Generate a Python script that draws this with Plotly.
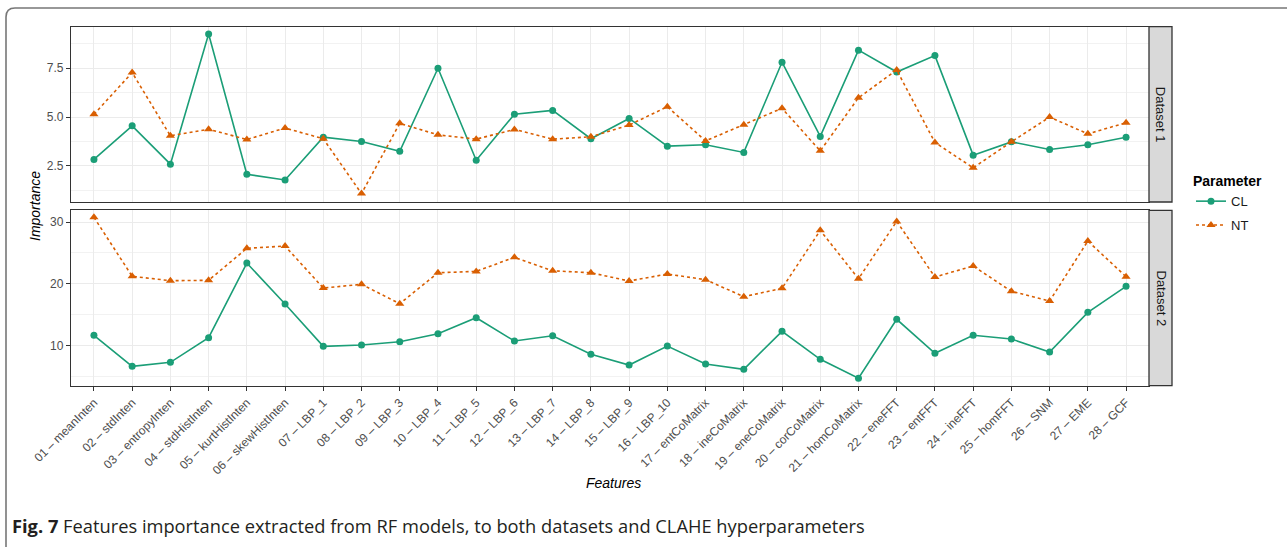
import plotly.graph_objects as go

W, H = 1287, 547

features = ["01 – meanInten", "02 – stdInten", "03 – entropyInten", "04 – stdHistInten",
            "05 – kurtHistInten", "06 – skewHistInten", "07 – LBP_1", "08 – LBP_2",
            "09 – LBP_3", "10 – LBP_4", "11 – LBP_5", "12 – LBP_6", "13 – LBP_7",
            "14 – LBP_8", "15 – LBP_9", "16 – LBP_10", "17 – entCoMatrix",
            "18 – ineCoMatrix", "19 – eneCoMatrix", "20 – corCoMatrix",
            "21 – homCoMatrix", "22 – eneFFT", "23 – entFFT", "24 – ineFFT",
            "25 – homFFT", "26 – SNM", "27 – EME", "28 – GCF"]

ds1_CL = [2.83, 4.55, 2.59, 9.26, 2.07, 1.78, 3.97, 3.75, 3.25, 7.50,
          2.79, 5.15, 5.34, 3.89, 4.93, 3.51, 3.58, 3.19, 7.81, 4.01,
          8.43, 7.31, 8.15, 3.05, 3.73, 3.34, 3.58, 3.97]
ds1_NT = [5.14, 7.28, 4.04, 4.38, 3.85, 4.44, 3.89, 1.08, 4.68, 4.09,
          3.87, 4.37, 3.87, 3.99, 4.59, 5.53, 3.78, 4.61, 5.45, 3.27,
          5.99, 7.41, 3.70, 2.40, 3.73, 5.00, 4.14, 4.71]
ds2_CL = [11.64, 6.61, 7.26, 11.25, 23.35, 16.71, 9.85, 10.06, 10.60, 11.90,
          14.49, 10.71, 11.57, 8.56, 6.82, 9.90, 6.98, 6.13, 12.28, 7.75,
          4.67, 14.23, 8.72, 11.64, 11.04, 8.93, 15.36, 19.58]
ds2_NT = [30.76, 21.20, 20.49, 20.55, 25.74, 26.10, 19.30, 19.90, 16.76, 21.78,
          22.00, 24.28, 22.10, 21.78, 20.44, 21.57, 20.65, 17.90, 19.25, 28.65,
          20.81, 30.10, 21.09, 22.87, 18.77, 17.20, 26.92, 21.13]

panels = ["Dataset 1", "Dataset 2"]
params = ["CL", "NT"]

CL_COLOR = "#1B9E77"
NT_COLOR = "#D95F02"

def px_x(p):
    return p / W

def px_y(p):
    return 1 - p / H

X0, X1 = 71, 1149
P1 = (26.7, 202.0)
P2 = (210.3, 385.7)

fig = go.Figure()

series = [
    (ds1_CL, "CL", "x", "y", True),
    (ds1_NT, "NT", "x", "y", True),
    (ds2_CL, "CL", "x2", "y2", False),
    (ds2_NT, "NT", "x2", "y2", False),
]
for vals, name, xa, ya, show in series:
    if name == "CL":
        line = dict(color=CL_COLOR, width=1.6)
        marker = dict(symbol="circle", size=7, color=CL_COLOR)
    else:
        line = dict(color=NT_COLOR, width=1.6, dash="3px,3px")
        marker = dict(symbol="triangle-up", size=8, color=NT_COLOR)
    fig.add_trace(go.Scatter(x=features, y=vals, mode="lines+markers", name=name,
                             line=line, marker=marker, xaxis=xa, yaxis=ya,
                             showlegend=show, legendgroup=name))

tickfont = dict(family="Liberation Sans, Arial, sans-serif", size=12, color="#4D4D4D")
gridc = "#EBEBEB"
common_x = dict(type="category", range=[-0.6, 27.6], showgrid=True, gridcolor=gridc,
                gridwidth=1.3, showline=True, linecolor="#333333", linewidth=1.3,
                mirror=True, zeroline=False, domain=[px_x(X0), px_x(X1)],
                automargin=False)
common_y = dict(showgrid=True, gridcolor=gridc, gridwidth=1.3, showline=True,
                linecolor="#333333", linewidth=1.3, mirror=True, zeroline=False,
                ticks="outside", ticklen=4, tickcolor="#333333", tickwidth=1,
                tickfont=tickfont, automargin=False)

fig.update_layout(
    width=W, height=H,
    margin=dict(l=0, r=0, t=0, b=0, autoexpand=False),
    paper_bgcolor="white", plot_bgcolor="white",
    xaxis=dict(**common_x, anchor="y", showticklabels=False, ticks=""),
    xaxis2=dict(**common_x, anchor="y2", matches="x", showticklabels=True,
                ticks="outside", ticklen=4, tickcolor="#333333", tickwidth=1,
                tickangle=-45, tickfont=tickfont),
    yaxis=dict(**common_y, anchor="x", domain=[px_y(P1[1]), px_y(P1[0])],
               range=[0.65, 9.63], tickvals=[2.5, 5.0, 7.5],
               ticktext=["2.5", "5.0", "7.5"],
               minor=dict(tickvals=[1.25, 3.75, 6.25, 8.75], showgrid=True,
                          gridcolor="#F2F2F2", gridwidth=1, ticks="")),
    yaxis2=dict(**common_y, anchor="x2", domain=[px_y(P2[1]), px_y(P2[0])],
                range=[3.47, 31.9], tickvals=[10, 20, 30],
                minor=dict(tickvals=[5, 15, 25], showgrid=True,
                           gridcolor="#F2F2F2", gridwidth=1, ticks="")),
    legend=dict(x=px_x(1191), y=px_y(168), xanchor="left", yanchor="top",
                title=dict(text="<b>Parameter</b>",
                           font=dict(family="Liberation Sans, Arial, sans-serif",
                                     size=14, color="black")),
                font=dict(family="Liberation Sans, Arial, sans-serif", size=13,
                          color="#1A1A1A"),
                itemwidth=30, tracegroupgap=4, bgcolor="rgba(0,0,0,0)"),
    showlegend=True,
)

# facet strips
shapes = []
for (top, bot), lab in zip([P1, P2], panels):
    shapes.append(dict(type="rect", xref="paper", yref="paper",
                       x0=px_x(X1), x1=px_x(1172), y0=px_y(bot), y1=px_y(top),
                       fillcolor="#D9D9D9", line=dict(color="#333333", width=1.3)))
    fig.add_annotation(x=px_x((X1 + 1172) / 2), y=px_y((top + bot) / 2),
                       xref="paper", yref="paper", text=lab, textangle=90,
                       xanchor="center", yanchor="middle",
                       showarrow=False,
                       font=dict(family="Liberation Sans, Arial, sans-serif",
                                 size=13, color="#1A1A1A"))

# outer journal frame with rounded corner
r = 9
x0f, y0f = 6, 8
path = (f"M {px_x(x0f)},{px_y(H + 20)} L {px_x(x0f)},{px_y(y0f + r)} "
        f"Q {px_x(x0f)},{px_y(y0f)} {px_x(x0f + r)},{px_y(y0f)} "
        f"L {px_x(W + 20)},{px_y(y0f)}")
shapes.append(dict(type="path", xref="paper", yref="paper", path=path,
                   line=dict(color="#777777", width=1.6)))
fig.update_layout(shapes=shapes)

# axis titles
fig.add_annotation(x=px_x(35), y=px_y(206), xref="paper", yref="paper",
                   text="<i>Importance</i>", textangle=-90, showarrow=False,
                   xanchor="center", yanchor="middle",
                   font=dict(family="Liberation Sans, Arial, sans-serif", size=14,
                             color="black"))
fig.add_annotation(x=px_x(613), y=px_y(493), xref="paper", yref="paper",
                   text="<i>Features</i>", showarrow=False,
                   font=dict(family="Liberation Sans, Arial, sans-serif", size=14,
                             color="black"))

# caption
fig.add_annotation(x=px_x(10), y=px_y(525), xref="paper", yref="paper",
                   xanchor="left", yanchor="middle",
                   text="<b>Fig. 7</b> Features importance extracted from RF models, to both datasets and CLAHE hyperparameters",
                   showarrow=False,
                   font=dict(family="Open Sans, Noto Sans, sans-serif", size=18.3,
                             color="#231F20"))

fig.write_html("out.html",
               config={"displayModeBar": False},
               post_script="document.body.style.margin='0';document.body.style.overflow='hidden';")
